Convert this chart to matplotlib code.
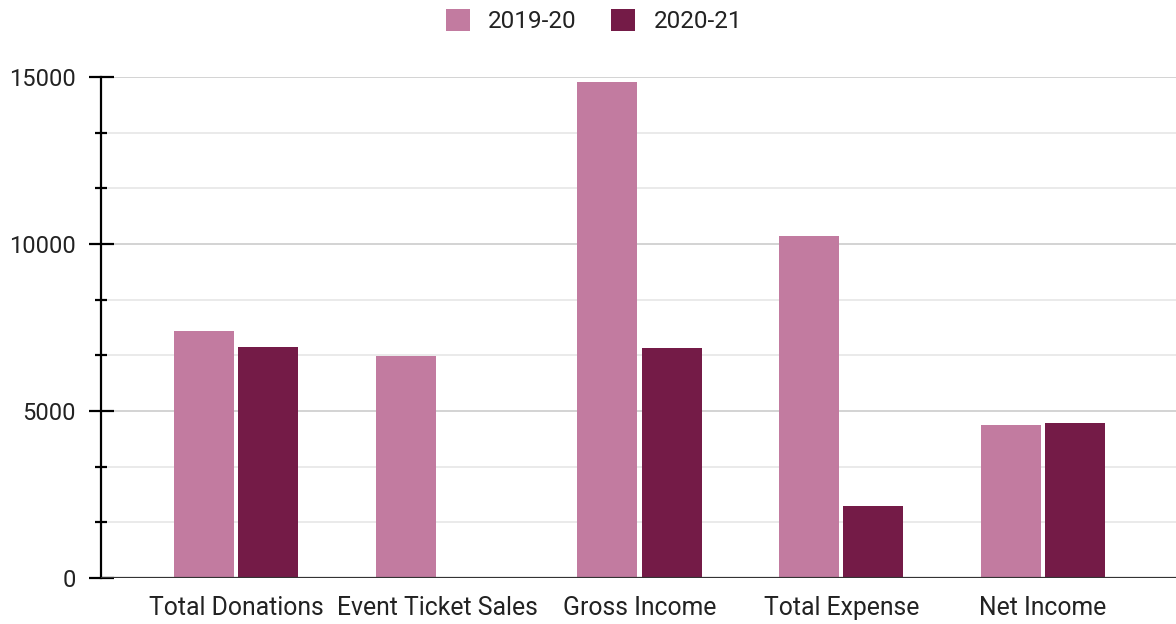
import matplotlib
matplotlib.use('Agg')
from matplotlib import pyplot as plt
from matplotlib.ticker import MultipleLocator
import numpy as np

categories = ['Total Donations', 'Event Ticket Sales', 'Gross Income',
              'Total Expense', 'Net Income']
series_names = ['2019-20', '2020-21']
values_1920 = [7395, 6660, 14850, 10230, 4590]
values_2021 = [6905, 0, 6900, 2170, 4650]
colors = ['#C27BA0', '#741B47']


def main():
    plt.rcParams['font.family'] = ['Roboto', 'DejaVu Sans']

    fig = plt.figure(figsize=(11.76, 6.24), dpi=100)
    ax = fig.add_axes([101 / 1176, 1 - 578 / 624, 1 - 101 / 1176, 501 / 624])

    x = np.arange(len(categories))
    w = 0.298
    off = 0.159
    b1 = ax.bar(x - off, values_1920, w, color=colors[0], label=series_names[0], zorder=3)
    b2 = ax.bar(x + off, values_2021, w, color=colors[1], label=series_names[1], zorder=3)

    ax.set_xlim(-0.67, 4.66)
    ax.set_ylim(0, 15000)

    ax.yaxis.set_major_locator(MultipleLocator(5000))
    ax.yaxis.set_minor_locator(MultipleLocator(5000 / 3))
    ax.grid(axis='y', which='major', color='#cccccc', linewidth=1.2, zorder=0)
    ax.grid(axis='y', which='minor', color='#e6e6e6', linewidth=1.2, zorder=0)

    for s in ['top', 'right', 'bottom']:
        ax.spines[s].set_visible(False)
    ax.spines['left'].set_linewidth(1.6)
    ax.spines['left'].set_color('black')
    ax.axhline(0, color='#333333', linewidth=1.6, zorder=4)

    ax.tick_params(axis='y', which='major', direction='inout', length=18,
                   width=1.6, labelsize=17, pad=9, colors='black', labelcolor='#222222')
    ax.tick_params(axis='y', which='minor', direction='inout', length=9,
                   width=1.6, colors='black')
    ax.set_xticks(x)
    ax.set_xticklabels(categories)
    ax.tick_params(axis='x', length=0, labelsize=17.8, pad=13, labelcolor='#222222')

    fig.legend(handles=[b1, b2], loc='center', bbox_to_anchor=(0.505, 0.966),
               ncol=2, frameon=False, fontsize=17.5, handlelength=1.0,
               handleheight=1.0, handletextpad=0.75, columnspacing=1.4,
               labelcolor='#222222')

    fig.savefig('out.png', dpi=100)


if __name__ == '__main__':
    main()
